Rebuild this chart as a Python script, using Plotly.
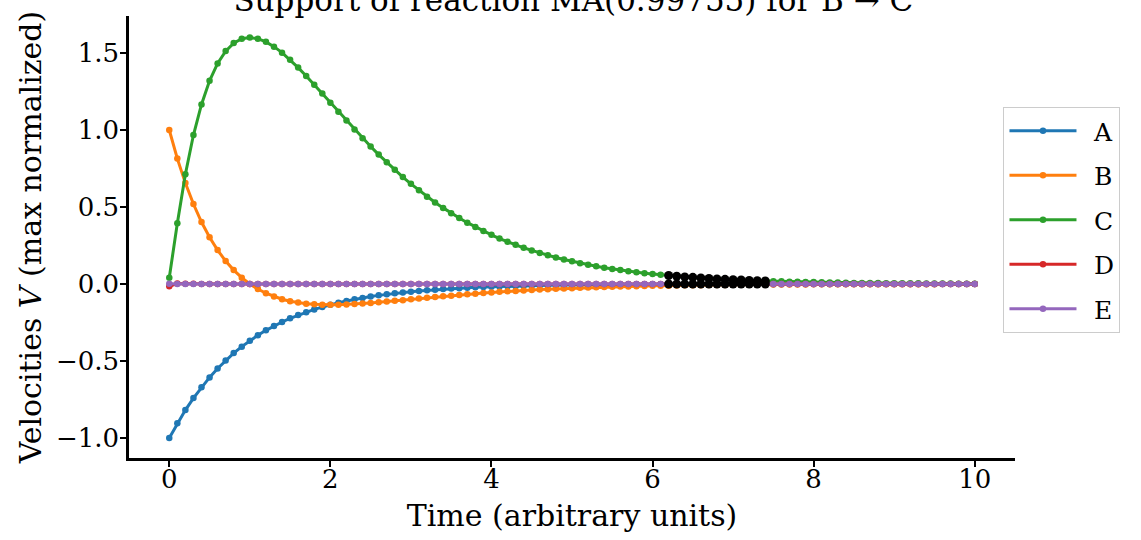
import plotly.graph_objects as go

# Time points 0..10 step 0.1
time = [round(i * 0.1, 1) for i in range(101)]

vel_A = [-1.000, -0.905, -0.819, -0.741, -0.670, -0.607, -0.549, -0.497, -0.449, -0.407,
         -0.368, -0.333, -0.301, -0.273, -0.247, -0.223, -0.202, -0.183, -0.165, -0.150,
         -0.135, -0.122, -0.111, -0.100, -0.091, -0.082, -0.074, -0.067, -0.061, -0.055,
         -0.050, -0.045, -0.041, -0.037, -0.033, -0.030, -0.027, -0.025, -0.022, -0.020,
         -0.018, -0.017, -0.015, -0.014, -0.012, -0.011, -0.010, -0.009, -0.008, -0.007,
         -0.007, -0.006, -0.006, -0.005, -0.005, -0.004, -0.004, -0.003, -0.003, -0.003,
         -0.002, -0.002, -0.002, -0.002, -0.002, -0.002, -0.001, -0.001, -0.001, -0.001,
         -0.001, -0.001, -0.001, -0.001, -0.001, -0.001, -0.001, 0.000, 0.000, 0.000,
         0.000, 0.000, 0.000, 0.000, 0.000, 0.000, 0.000, 0.000, 0.000, 0.000,
         0.000, 0.000, 0.000, 0.000, 0.000, 0.000, 0.000, 0.000, 0.000, 0.000,
         0.000]

vel_B = [1.000, 0.814, 0.655, 0.519, 0.402, 0.303, 0.220, 0.149, 0.090, 0.041,
         0.000, -0.033, -0.060, -0.082, -0.099, -0.112, -0.121, -0.128, -0.132, -0.135,
         -0.135, -0.135, -0.133, -0.130, -0.127, -0.123, -0.119, -0.114, -0.109, -0.105,
         -0.100, -0.095, -0.090, -0.085, -0.080, -0.076, -0.071, -0.067, -0.063, -0.059,
         -0.055, -0.051, -0.048, -0.045, -0.042, -0.039, -0.036, -0.034, -0.031, -0.029,
         -0.027, -0.025, -0.023, -0.021, -0.020, -0.018, -0.017, -0.016, -0.014, -0.013,
         -0.012, -0.011, -0.011, -0.010, -0.009, -0.008, -0.008, -0.007, -0.006, -0.006,
         -0.005, -0.005, -0.005, -0.004, -0.004, -0.004, -0.003, -0.003, -0.003, -0.003,
         -0.002, -0.002, -0.002, -0.002, -0.002, -0.002, -0.001, -0.001, -0.001, -0.001,
         -0.001, -0.001, -0.001, -0.001, -0.001, -0.001, 0.000, 0.000, 0.000, 0.000,
         0.000]

vel_C = [0.040, 0.394, 0.712, 0.967, 1.166, 1.319, 1.432, 1.512, 1.564, 1.592,
         1.600, 1.593, 1.572, 1.541, 1.502, 1.456, 1.405, 1.351, 1.294, 1.236,
         1.177, 1.119, 1.061, 1.003, 0.947, 0.893, 0.840, 0.790, 0.741, 0.694,
         0.650, 0.608, 0.567, 0.529, 0.494, 0.460, 0.428, 0.398, 0.370, 0.344,
         0.319, 0.295, 0.274, 0.254, 0.235, 0.218, 0.201, 0.186, 0.172, 0.159,
         0.147, 0.135, 0.125, 0.115, 0.106, 0.098, 0.090, 0.083, 0.076, 0.070,
         0.065, 0.060, 0.055, 0.050, 0.046, 0.043, 0.039, 0.036, 0.033, 0.030,
         0.028, 0.026, 0.023, 0.021, 0.020, 0.018, 0.017, 0.015, 0.014, 0.013,
         0.012, 0.011, 0.010, 0.009, 0.008, 0.007, 0.007, 0.006, 0.006, 0.005,
         0.005, 0.004, 0.004, 0.004, 0.003, 0.003, 0.003, 0.003, 0.002, 0.002,
         0.002]

vel_D = [-0.015, 0.003, 0.002, 0.001] + [0.000] * 97
vel_E = [0.002] + [0.000] * 100

# Support window (indices in time)
support_start, support_end = 62, 74

series_names = ["A", "B", "C", "D", "E"]
series_vals = [vel_A, vel_B, vel_C, vel_D, vel_E]
colors = ["#1f77b4", "#ff7f0e", "#2ca02c", "#d62728", "#9467bd"]

x_ticks = [0, 2, 4, 6, 8, 10]
x_ticktext = ["0", "2", "4", "6", "8", "10"]
y_ticks = [-1.0, -0.5, 0.0, 0.5, 1.0, 1.5]
y_ticktext = ["\u22121.0", "\u22120.5", "0.0", "0.5", "1.0", "1.5"]

FONT = "DejaVu Serif"

fig = go.Figure()
for i, (name, vals, col) in enumerate(zip(series_names, series_vals, colors)):
    fig.add_trace(go.Scatter(
        x=time, y=vals, name="\u2002" + name, mode="lines+markers",
        line=dict(color=col, width=3),
        marker=dict(color=col, size=6.5),
        legendgroup=name,
    ))

sup_t = time[support_start:support_end + 1]
fig.add_trace(go.Scatter(
    x=sup_t, y=vel_C[support_start:support_end + 1], mode="markers",
    marker=dict(color="black", size=9), showlegend=False,
))
fig.add_trace(go.Scatter(
    x=sup_t, y=vel_E[support_start:support_end + 1], mode="markers",
    marker=dict(color="black", size=9), showlegend=False,
))

fig.update_layout(
    width=1141, height=540,
    paper_bgcolor="white", plot_bgcolor="white",
    margin=dict(l=129, r=126, t=16, b=82, autoexpand=False),
    font=dict(family=FONT, color="black", size=26),
    title=dict(text="Support of reaction MA(0.99755) for B \u2192 C",
               x=0.5015, xref="paper", xanchor="center",
               y=0.98, yref="container", yanchor="bottom",
               font=dict(size=31, family=FONT)),
    showlegend=True,
    legend=dict(x=0.987, xanchor="left", y=0.794, yanchor="top",
                bordercolor="#cccccc", borderwidth=1, bgcolor="white",
                font=dict(size=25, family=FONT),
                itemwidth=67, tracegroupgap=9),
)
fig.update_xaxes(
    range=[-0.5, 10.5], tickvals=x_ticks, ticktext=x_ticktext,
    showgrid=False, zeroline=False, showline=True, linecolor="black", linewidth=2.5,
    ticks="outside", ticklen=6, tickwidth=1.5, tickcolor="black",
    tickfont=dict(size=26, family=FONT), automargin=False, ticklabelstandoff=-10,
    title=dict(text="Time (arbitrary units)", font=dict(size=30, family=FONT), standoff=13),
)
fig.update_yaxes(
    range=[-1.13, 1.74], tickvals=y_ticks, ticktext=y_ticktext,
    showgrid=False, zeroline=False, showline=True, linecolor="black", linewidth=2.5,
    ticks="outside", ticklen=6, tickwidth=1.5, tickcolor="black",
    tickfont=dict(size=26, family=FONT), automargin=False, ticklabelstandoff=-4,
    title=dict(text="Velocities <i>V</i> (max normalized)", font=dict(size=30, family=FONT), standoff=6),
)

fig.write_html("out.html", config={"displayModeBar": False},
               post_script="document.body.style.margin='0';")
